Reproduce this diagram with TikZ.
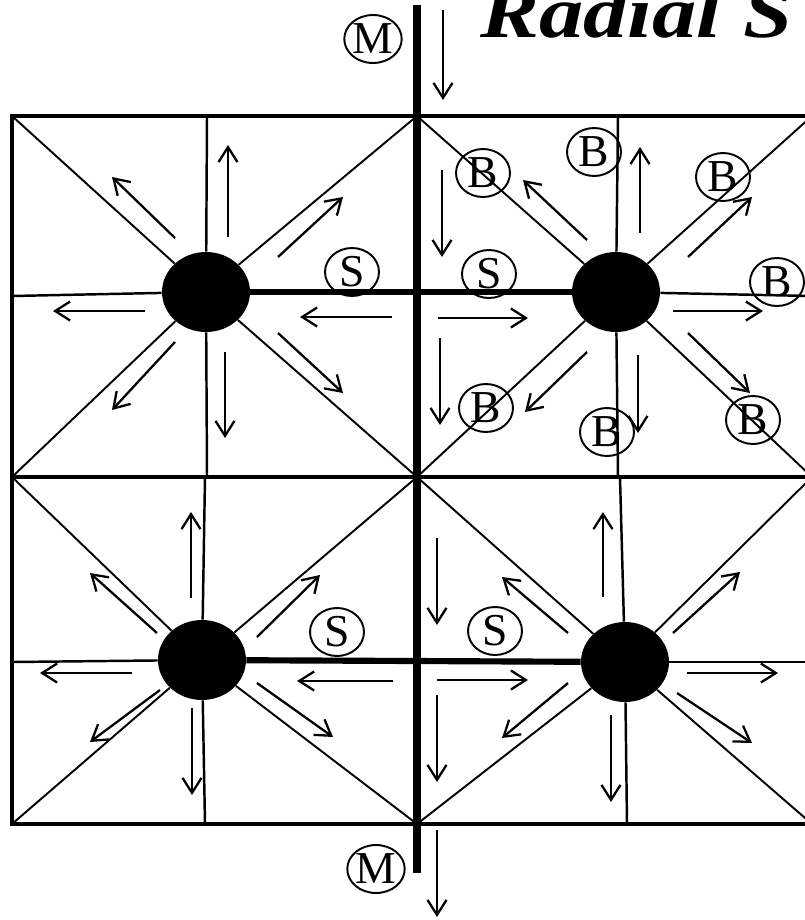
\documentclass[tikz,border=0pt]{standalone}
\usepackage{fontspec}
\usepackage{graphicx}
\setmainfont{Liberation Serif}
\usetikzlibrary{arrows.meta, shapes.geometric}

\tikzset{
  stn/.style={ellipse, fill=black, minimum width=1.76cm, minimum height=1.6cm, inner sep=0pt},
  tag/.style={draw, ellipse, line width=1.1pt, inner sep=0pt, minimum width=1.08cm, minimum height=0.96cm, font=\fontsize{26}{26}\selectfont},
  flow/.style={-{Straight Barb[length=3mm,width=3.8mm,line width=1.3pt]}, line width=1.3pt},
  frame/.style={line width=2pt},
  grid/.style={line width=1.4pt},
  diag/.style={line width=1.1pt},
  mainline/.style={line width=4.8pt},
  feeder/.style={line width=3.5pt}
}

\begin{document}
\begin{tikzpicture}[x=0.02cm, y=-0.02cm]
    \useasboundingbox (0,0) rectangle (805,920);
    \fill[white] (0,0) rectangle (805,920);

    % Title (cut at the top)
    \node (title) [anchor=base west, inner sep=0pt, font=\bfseries\itshape\fontsize{42}{42}\selectfont] at (480,37) {\scalebox{1.2}[1]{Radial S}};

    % Grid corners
    \coordinate (p00) at (12,116);
    \coordinate (p10) at (417,116);
    \coordinate (p20) at (812,116);
    \coordinate (p01) at (12,477);
    \coordinate (p11) at (417,477);
    \coordinate (p21) at (812,477);
    \coordinate (p02) at (12,824);
    \coordinate (p12) at (417,824);
    \coordinate (p22) at (812,824);

    % Stations
    \node (tl) [stn] at (206,292) {};
    \node (tr) [stn] at (616,292) {};
    \node (bl) [stn] at (202,660) {};
    \node (br) [stn] at (625,662) {};

    % Frame
    \draw[frame] (p00) rectangle (p22);
    \draw[frame] (p01) -- (p21);

    % Grid lines through the stations
    \draw[grid] (207,116) -- (tl) -- (207,477);
    \draw[grid] (12,296) -- (tl);
    \draw[grid] (618,116) -- (tr) -- (618,477);
    \draw[grid] (tr) -- (812,296);
    \draw[grid] (205,477) -- (bl) -- (205,824);
    \draw[grid] (12,662) -- (bl);
    \draw[grid] (620,477) -- (br) -- (627,824);
    \draw[grid] (br) -- (812,662);

    % Diagonals
    \draw[diag] (p00) -- (tl) -- (p11);
    \draw[diag] (p10) -- (tl) -- (p01);
    \draw[diag] (p10) -- (tr) -- (p21);
    \draw[diag] (p20) -- (tr) -- (p11);
    \draw[diag] (p01) -- (bl) -- (p12);
    \draw[diag] (p11) -- (bl) -- (p02);
    \draw[diag] (p11) -- (br) -- (p22);
    \draw[diag] (p21) -- (br) -- (p12);

    % Main line and feeders
    \draw[mainline] (417,5) -- (417,873);
    \draw[feeder] (tl) -- (tr);
    \draw[feeder] (bl) -- (br);

    % Labels
    \node (mtop) [tag] at (373,39) {M};
    \node (mbot) [tag] at (376,869) {M};
    \node (s1) [tag] at (352,272) {S};
    \node (s2) [tag] at (489,274) {S};
    \node (s3) [tag] at (337,632) {S};
    \node (s4) [tag] at (495,631) {S};
    \node (bnw) [tag] at (483,173) {B};
    \node (bn) [tag] at (594,152) {B};
    \node (bne) [tag] at (723,177) {B};
    \node (be) [tag] at (777,282) {B};
    \node (bse) [tag] at (753,420) {B};
    \node (bs) [tag] at (607,432) {B};
    \node (bsw) [tag] at (486,408) {B};

    % Flows along the main line
    \draw[flow] (443,10) -- (443,100);
    \draw[flow] (442,170) -- (442,257);
    \draw[flow] (440,338) -- (440,425);
    \draw[flow] (437,538) -- (437,625);
    \draw[flow] (437,695) -- (437,782);
    \draw[flow] (437,830) -- (437,917);

    % Flows round the top left station
    \draw[flow] (228,237) -- (228,145);
    \draw[flow] (175,238) -- (112,177);
    \draw[flow] (278,257) -- (343,197);
    \draw[flow] (145,311) -- (53,311);
    \draw[flow] (392,317) -- (300,317);
    \draw[flow] (278,333) -- (343,393);
    \draw[flow] (225,352) -- (225,438);
    \draw[flow] (175,342) -- (112,410);

    % Flows round the top right station
    \draw[flow] (587,240) -- (523,180);
    \draw[flow] (640,233) -- (640,147);
    \draw[flow] (688,257) -- (752,197);
    \draw[flow] (673,311) -- (763,311);
    \draw[flow] (688,333) -- (750,393);
    \draw[flow] (638,355) -- (638,433);
    \draw[flow] (587,352) -- (525,412);
    \draw[flow] (438,318) -- (528,318);

    % Flows round the bottom left station
    \draw[flow] (191,598) -- (191,512);
    \draw[flow] (157,633) -- (90,573);
    \draw[flow] (257,637) -- (320,575);
    \draw[flow] (132,673) -- (40,673);
    \draw[flow] (393,681) -- (297,681);
    \draw[flow] (257,683) -- (333,737);
    \draw[flow] (192,708) -- (192,795);
    \draw[flow] (160,690) -- (90,742);

    % Flows round the bottom right station
    \draw[flow] (603,597) -- (603,512);
    \draw[flow] (568,633) -- (502,577);
    \draw[flow] (673,633) -- (740,572);
    \draw[flow] (687,673) -- (778,673);
    \draw[flow] (437,680) -- (528,680);
    \draw[flow] (677,693) -- (752,743);
    \draw[flow] (611,715) -- (611,802);
    \draw[flow] (568,683) -- (502,738);
\end{tikzpicture}
\end{document}
